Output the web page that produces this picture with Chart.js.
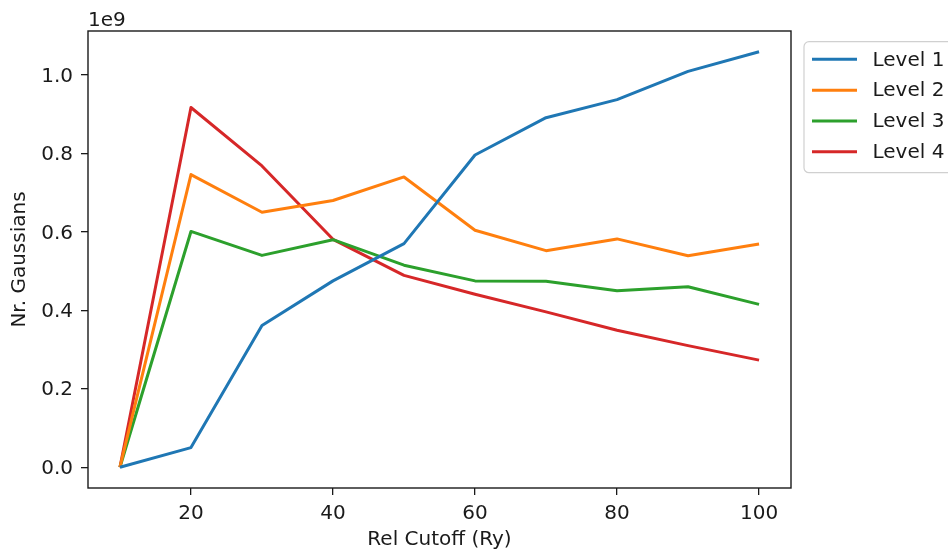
<!DOCTYPE html>
<html>
<head>
<meta charset="utf-8">
<script src="https://cdn.jsdelivr.net/npm/chart.js@4"></script>
<style>
  html, body { margin: 0; padding: 0; background: #ffffff; }
  #wrap { width: 948px; height: 556px; }
</style>
</head>
<body>
<div id="wrap"><canvas id="c" width="948" height="556"></canvas></div>
<script>
// Number of Gaussians per level versus the relative cutoff (Ry)
const cutoffs = [10, 20, 30, 40, 50, 60, 70, 80, 90, 100];
const level1 = [0, 0.050e9, 0.361e9, 0.475e9, 0.570e9, 0.796e9, 0.891e9, 0.937e9, 1.009e9, 1.059e9];
const level2 = [0, 0.746e9, 0.650e9, 0.680e9, 0.740e9, 0.604e9, 0.552e9, 0.582e9, 0.539e9, 0.569e9];
const level3 = [0, 0.601e9, 0.540e9, 0.580e9, 0.515e9, 0.475e9, 0.474e9, 0.450e9, 0.460e9, 0.415e9];
const level4 = [0, 0.917e9, 0.768e9, 0.581e9, 0.489e9, 0.441e9, 0.396e9, 0.349e9, 0.310e9, 0.273e9];
const seriesNames = ['Level 1', 'Level 2', 'Level 3', 'Level 4'];
const xTicks = [20, 40, 60, 80, 100];
const yTicks = [0, 0.2e9, 0.4e9, 0.6e9, 0.8e9, 1.0e9];

const colors = ['#1f77b4', '#ff7f0e', '#2ca02c', '#d62728'];
const FONT = 'DejaVu Sans';
const FS = 20;
const INK = '#1a1a1a';

const toPoints = arr => cutoffs.map((x, i) => ({ x: x, y: arr[i] }));

const datasets = [level1, level2, level3, level4].map((arr, i) => ({
  label: seriesNames[i],
  data: toPoints(arr),
  borderColor: colors[i],
  backgroundColor: colors[i],
  borderWidth: 3,
  pointRadius: 0,
  tension: 0,
  fill: false,
  borderJoinStyle: 'round',
  borderCapStyle: 'butt'
}));

// frame, offset text and legend, drawn on top of the axes
const decorations = {
  id: 'decorations',
  afterDraw(chart) {
    const ctx = chart.ctx;
    const a = chart.chartArea;
    ctx.save();
    ctx.strokeStyle = INK;
    ctx.lineWidth = 1.4;
    ctx.strokeRect(a.left, a.top, a.right - a.left, a.bottom - a.top);

    ctx.fillStyle = INK;
    ctx.font = FS + 'px "' + FONT + '"';
    ctx.textAlign = 'left';
    ctx.textBaseline = 'alphabetic';
    ctx.fillText('1e9', a.left, 25.5);

    // legend box
    const bx = 804, by = 41.7, bw = 170, bh = 131, r = 5;
    ctx.beginPath();
    ctx.moveTo(bx + r, by);
    ctx.lineTo(bx + bw - r, by);
    ctx.arcTo(bx + bw, by, bx + bw, by + r, r);
    ctx.lineTo(bx + bw, by + bh - r);
    ctx.arcTo(bx + bw, by + bh, bx + bw - r, by + bh, r);
    ctx.lineTo(bx + r, by + bh);
    ctx.arcTo(bx, by + bh, bx, by + bh - r, r);
    ctx.lineTo(bx, by + r);
    ctx.arcTo(bx, by, bx + r, by, r);
    ctx.closePath();
    ctx.fillStyle = 'rgba(255,255,255,0.85)';
    ctx.fill();
    ctx.strokeStyle = '#d0d0d0';
    ctx.lineWidth = 1.2;
    ctx.stroke();

    const rowsY = [59.3, 90.2, 121.0, 151.8];
    chart.data.datasets.forEach((ds, i) => {
      ctx.strokeStyle = ds.borderColor;
      ctx.lineWidth = 3;
      ctx.beginPath();
      ctx.moveTo(812, rowsY[i]);
      ctx.lineTo(857, rowsY[i]);
      ctx.stroke();
      ctx.fillStyle = INK;
      ctx.textBaseline = 'middle';
      ctx.fillText(ds.label, 872.5, rowsY[i] + 1);
    });
    ctx.restore();
  }
};

new Chart(document.getElementById('c'), {
  type: 'line',
  data: { datasets: datasets },
  plugins: [decorations],
  options: {
    responsive: false,
    animation: false,
    devicePixelRatio: 1,
    layout: { padding: { left: 0, right: 157, top: 31, bottom: 0 } },
    plugins: { legend: { display: false }, tooltip: { enabled: false } },
    scales: {
      x: {
        type: 'linear',
        min: 5.5,
        max: 104.5,
        afterBuildTicks: s => { s.ticks = xTicks.map(v => ({ value: v })); },
        afterFit: s => { s.height = 68; },
        grid: { display: true, drawOnChartArea: false, drawTicks: true, tickLength: 7, color: INK, lineWidth: 1.3 },
        border: { display: false },
        ticks: {
          color: INK,
          font: { family: FONT, size: FS },
          padding: 7,
          maxRotation: 0,
          autoSkip: false,
          callback: v => String(v)
        },
        title: {
          display: true,
          text: 'Rel Cutoff (Ry)',
          color: INK,
          font: { family: FONT, size: FS },
          padding: { top: 0, bottom: 4 }
        }
      },
      y: {
        type: 'linear',
        min: -0.053e9,
        max: 1.112e9,
        afterBuildTicks: s => { s.ticks = yTicks.map(v => ({ value: v })); },
        afterFit: s => { s.width = 88; },
        grid: { display: true, drawOnChartArea: false, drawTicks: true, tickLength: 7, color: INK, lineWidth: 1.3 },
        border: { display: false },
        ticks: {
          color: INK,
          font: { family: FONT, size: FS },
          padding: 8,
          labelOffset: 1.5,
          autoSkip: false,
          callback: v => (v / 1e9).toFixed(1)
        },
        title: {
          display: true,
          text: 'Nr. Gaussians',
          color: INK,
          font: { family: FONT, size: FS },
          padding: { top: 8, bottom: 0 }
        }
      }
    }
  }
});
</script>
</body>
</html>
